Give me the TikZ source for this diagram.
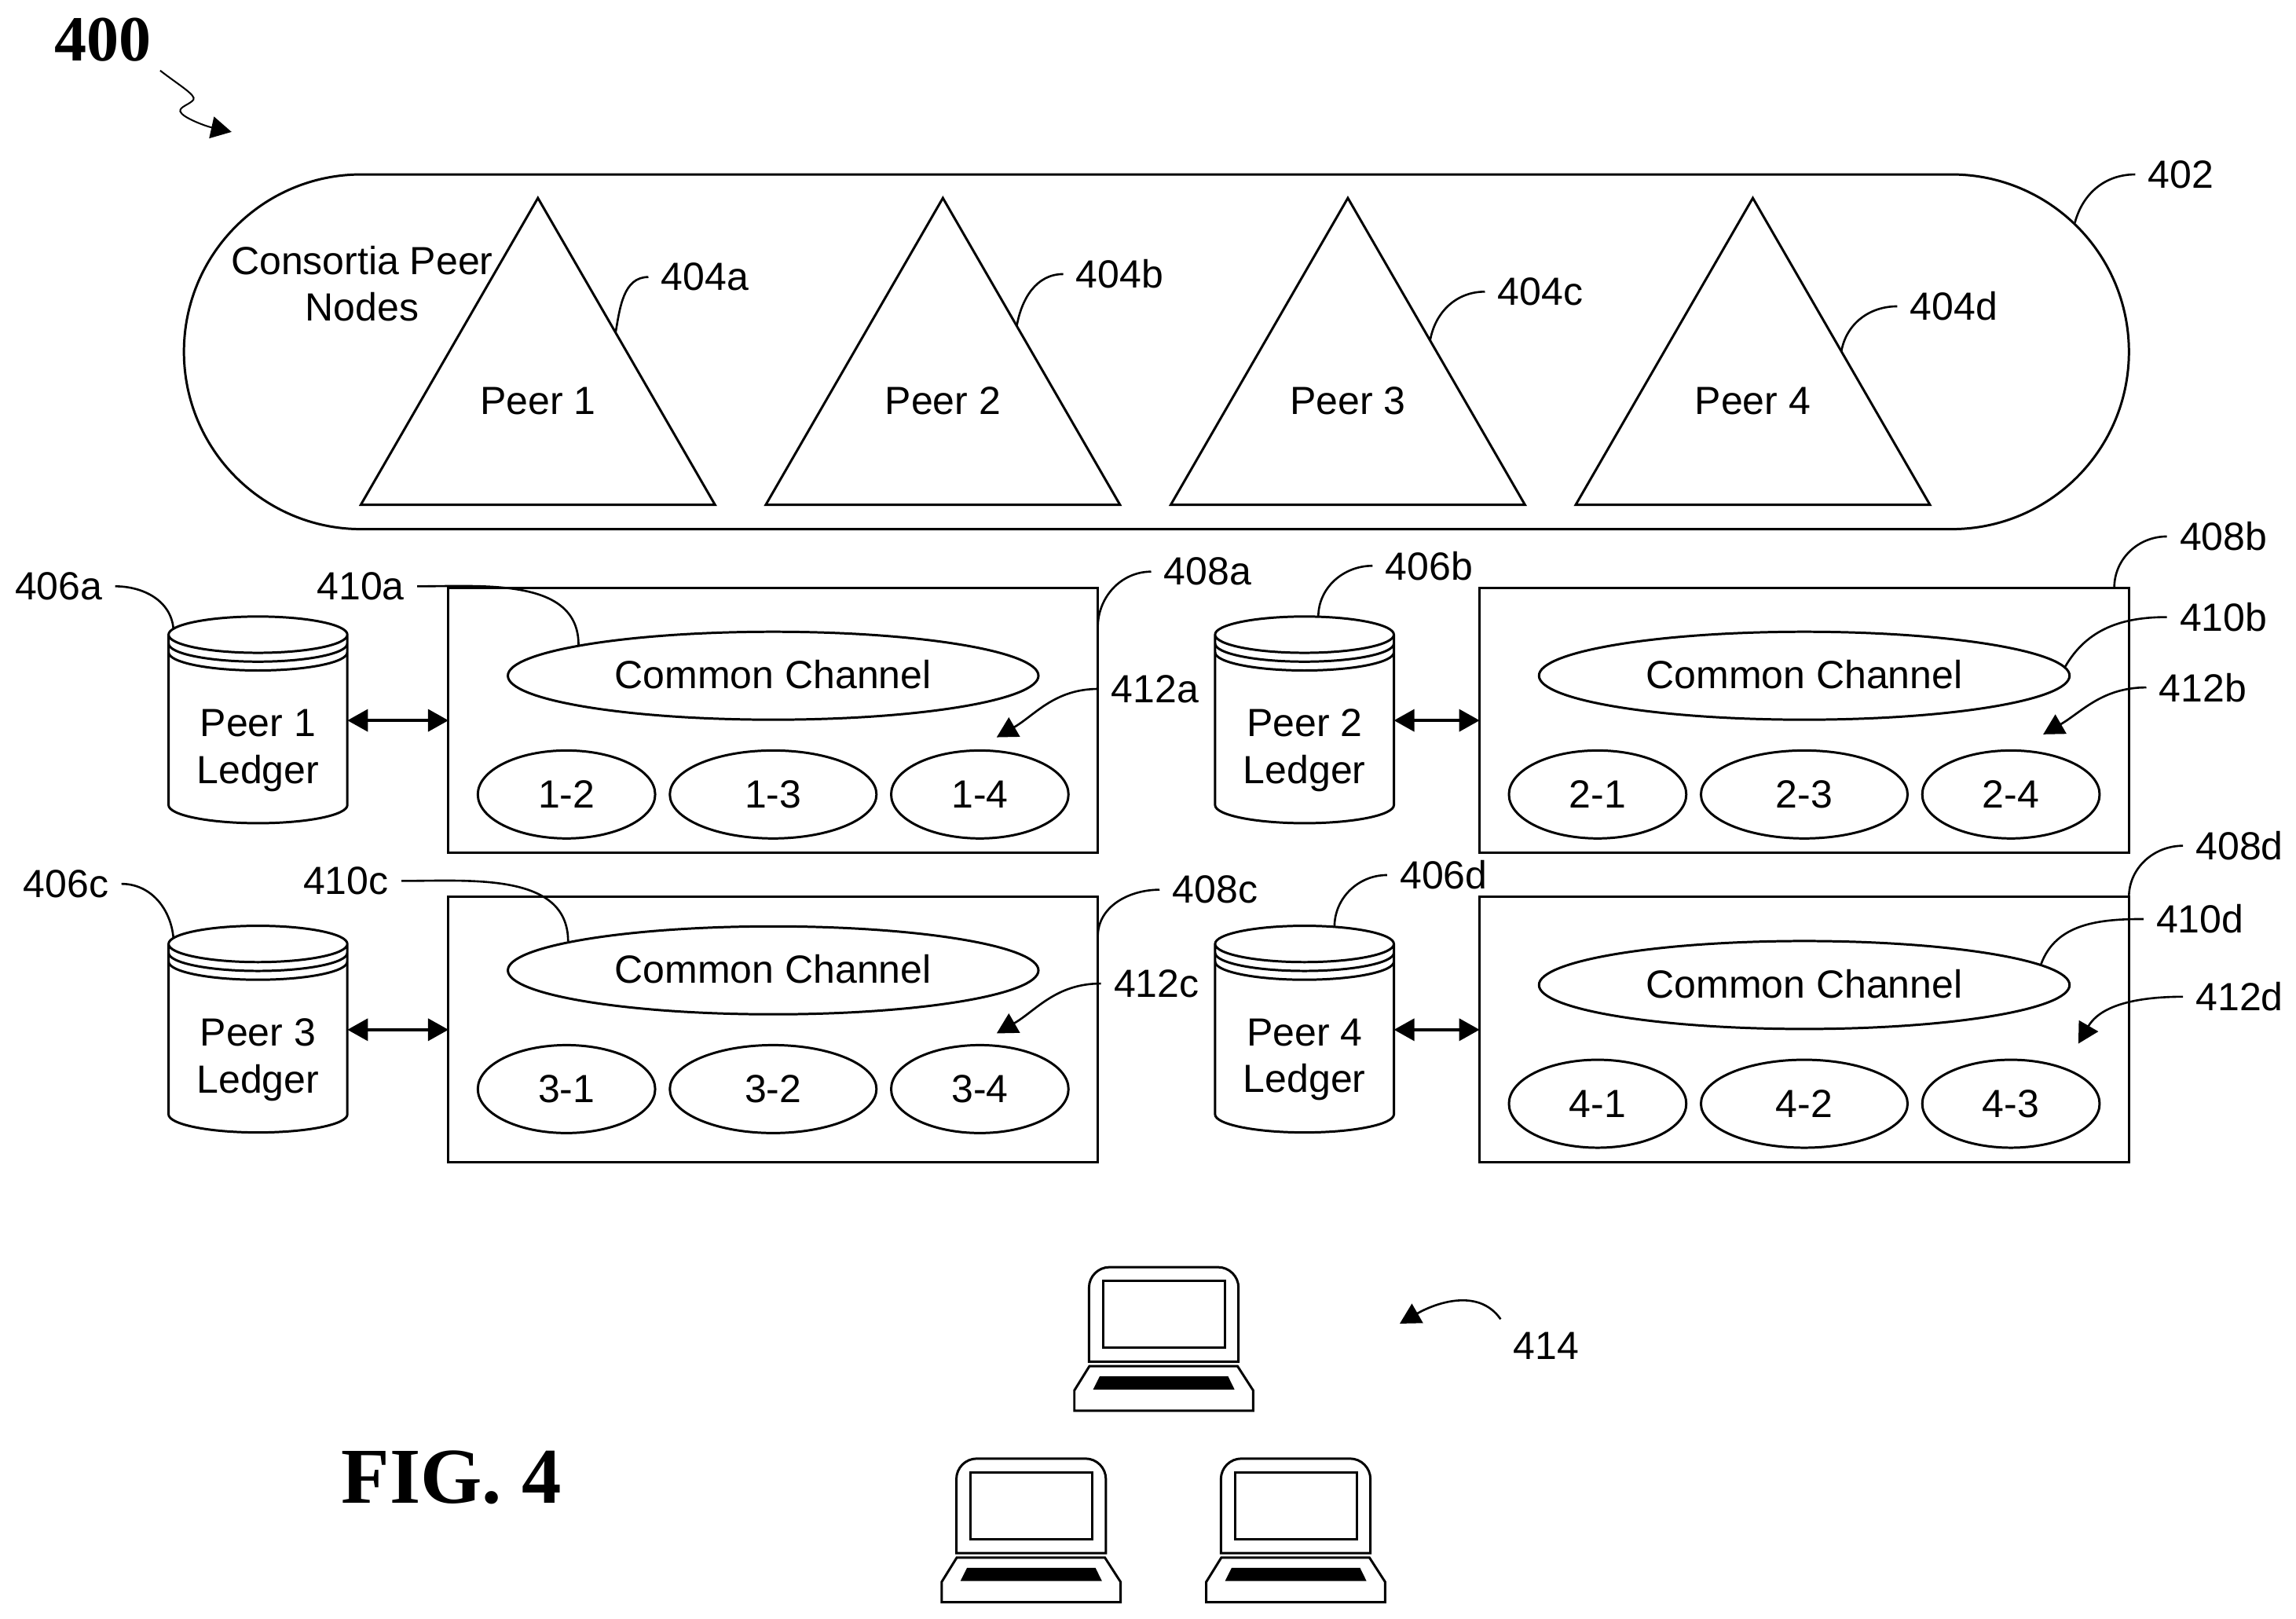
\documentclass[tikz,border=0pt]{standalone}
\usepackage{fontspec}
\setmainfont{Liberation Sans}
\newfontfamily\figfont{Liberation Serif}
\usetikzlibrary{positioning,shapes.geometric,shapes.misc,arrows.meta}

\begin{document}
\begin{tikzpicture}[%
    >={Triangle[length=14pt,width=15pt]},
    x=1pt, y=-1pt, line width=1.6pt,
    align=center, font=\fontsize{26.8}{32}\selectfont,
    pill/.style={draw, shape=rounded rectangle, minimum width=1327pt, minimum height=242pt, inner sep=0},
    peer/.style={draw, shape=regular polygon, regular polygon sides=3, minimum size=279pt, inner sep=0, outer sep=0, text depth=2pt},
    panel/.style={draw, minimum width=443pt, minimum height=181pt, inner sep=0, outer sep=0},
    chan/.style={draw, ellipse, minimum width=362pt, minimum height=60pt, inner sep=0, text depth=2pt},
    smallchan/.style={draw, ellipse, minimum width=121pt, minimum height=60pt, inner sep=0},
    widechan/.style={draw, ellipse, minimum width=141pt, minimum height=60pt, inner sep=0},
    ledger/.style={draw, shape=cylinder, shape border rotate=90, aspect=0.203, minimum height=141pt, minimum width=122pt, inner sep=0, outer sep=0,
      execute at begin node=\hspace*{122pt},
      path picture={
        \draw ([yshift=-18.4pt]path picture bounding box.north west) arc [start angle=180, end angle=360, x radius=61pt, y radius=12.4pt];
        \draw ([yshift=-24.4pt]path picture bounding box.north west) arc [start angle=180, end angle=360, x radius=61pt, y radius=12.4pt];
      }},
    reflabel/.style={inner sep=8pt},
    leader/.style={line width=1.4pt},
    laptop/.pic={
      \draw (-51,66) [rounded corners=14pt] -- (-51,1.5) -- (51,1.5) [sharp corners] -- (51,66) -- cycle;
      \draw (-41.2,11) rectangle (41.8,56.5);
      \draw (-50.7,69) -- (50.3,69) -- (61,85.6) -- (61,99.5) -- (-61,99.5) -- (-61,85.6) -- cycle;
      \fill (-43.7,76) -- (43.9,76) -- (48.3,85) -- (-48.2,85) -- cycle;
    }
  ]
    \useasboundingbox (0,0) rectangle (1566.5,1104.5);

    \node [font=\figfont\bfseries\fontsize{44}{44}\selectfont, inner sep=5.5pt] (r400) at (70,27) {400};
    \coordinate (tip400) at (158,90);

    % consortia
    \node [pill] (pl) at (789,240) {};
    \node (cons) at (247,193.5) {Consortia Peer\\Nodes};
    \node [peer] (t1) at (367,274.6) {Peer 1};
    \node [peer, node distance=276.3pt] (t2) [right of=t1] {Peer 2};
    \node [peer, node distance=276.3pt] (t3) [right of=t2] {Peer 3};
    \node [peer, node distance=276.3pt] (t4) [right of=t3] {Peer 4};

    % ledgers
    \node [ledger] (l1) at (176,497.7) {};
    \node [ledger, node distance=714pt] (l2) [right of=l1] {};
    \node [ledger, node distance=211pt] (l3) [below of=l1] {};
    \node [ledger, node distance=211pt] (l4) [below of=l2] {};
    \node (lt1) at (176,512) {Peer 1\\Ledger};
    \node (lt2) at (890,512) {Peer 2\\Ledger};
    \node (lt3) at (176,723) {Peer 3\\Ledger};
    \node (lt4) at (890,723) {Peer 4\\Ledger};

    % panels
    \node [panel] (b1) at (527.5,491.5) {};
    \node [panel, node distance=703.5pt] (b2) [right of=b1] {};
    \node [panel, node distance=211pt] (b3) [below of=b1] {};
    \node [panel, node distance=211pt] (b4) [below of=b2] {};

    \node [chan, node distance=30.5pt] (e1) [above of=b1] {Common Channel};
    \node [chan, node distance=30.5pt] (e2) [above of=b2] {Common Channel};
    \node [chan, node distance=40.5pt] (e3) [above of=b3] {Common Channel};
    \node [chan, node distance=30.5pt] (e4) [above of=b4] {Common Channel};

    \node [widechan, node distance=50.5pt] (s13) [below of=b1] {1-3};
    \node [smallchan, node distance=141pt] (s12) [left of=s13] {1-2};
    \node [smallchan, node distance=141pt] (s14) [right of=s13] {1-4};
    \node [widechan, node distance=50.5pt] (s23) [below of=b2] {2-3};
    \node [smallchan, node distance=141pt] (s21) [left of=s23] {2-1};
    \node [smallchan, node distance=141pt] (s24) [right of=s23] {2-4};
    \node [widechan, node distance=40.5pt] (s32) [below of=b3] {3-2};
    \node [smallchan, node distance=141pt] (s31) [left of=s32] {3-1};
    \node [smallchan, node distance=141pt] (s34) [right of=s32] {3-4};
    \node [widechan, node distance=50.5pt] (s42) [below of=b4] {4-2};
    \node [smallchan, node distance=141pt] (s41) [left of=s42] {4-1};
    \node [smallchan, node distance=141pt] (s43) [right of=s42] {4-3};

    % laptops
    \pic (lap1) at (794,863) {laptop};
    \pic (lap2) at (703.5,993.6) {laptop};
    \pic (lap3) at (884,993.6) {laptop};

    % reference numerals
    \node [reflabel] (r402) at (1488,119) {402};
    \node [reflabel] (r404a) at (481,189) {404a};
    \node [reflabel] (r404b) at (764,187) {404b};
    \node [reflabel] (r404c) at (1051,199) {404c};
    \node [reflabel] (r404d) at (1333,209) {404d};
    \node [reflabel] (r406a) at (40,400) {406a};
    \node [reflabel] (r406b) at (975,386) {406b};
    \node [reflabel] (r406c) at (45,603) {406c};
    \node [reflabel] (r406d) at (985,597) {406d};
    \node [reflabel] (r408a) at (824,390) {408a};
    \node [reflabel] (r408b) at (1517,366) {408b};
    \node [reflabel] (r408c) at (829,607) {408c};
    \node [reflabel] (r408d) at (1528,577) {408d};
    \node [reflabel] (r410a) at (246,400) {410a};
    \node [reflabel] (r410b) at (1517,421) {410b};
    \node [reflabel] (r410c) at (236,601) {410c};
    \node [reflabel] (r410d) at (1501,627) {410d};
    \node [reflabel] (r412a) at (788,470) {412a};
    \node [reflabel] (r412b) at (1503,469) {412b};
    \node [reflabel] (r412c) at (789,671) {412c};
    \node [reflabel] (r412d) at (1528,680) {412d};
    \node [reflabel] (r414) at (1055,918) {414};
    \node [font=\figfont\bfseries\fontsize{54}{54}\selectfont] (fig) at (308,1008) {FIG. 4};

    \coordinate (tip412a) at (680,503);
    \coordinate (tip412b) at (1394,501);
    \coordinate (tip412c) at (680,705);
    \coordinate (tip412d) at (1418,712);
    \coordinate (tip414) at (955,903);

    \draw [line width=1.1pt, ->] (r400.south east) .. controls (122,58) and (134,65) .. (132,68)
      .. controls (130,71) and (122,73) .. (123,76) .. controls (124,80) and (140,86) .. (tip400);

    \path (b1.west -| l1.east) edge [<->, line width=2.2pt] (b1.west)
          (b2.west -| l2.east) edge [<->, line width=2.2pt] (b2.west)
          (b3.west -| l3.east) edge [<->, line width=2.2pt] (b3.west)
          (b4.west -| l4.east) edge [<->, line width=2.2pt] (b4.west);

    \path (r402.west) edge [leader, out=180, in=75] (pl.8.6)
          (r404a.west) edge [leader, out=180, in=80] (t1.42)
          (r404b.west) edge [leader, out=180, in=80] (t2.46.7)
          (r404c.west) edge [leader, out=180, in=80] (t3.37.5)
          (r404d.west) edge [leader, out=180, in=80] (t4.30)
          (r406a.east) edge [leader, out=0, in=95] (l1.130.7)
          (r406b.west) edge [leader, out=180, in=90] (l2.83.3)
          (r406c.east) edge [leader, out=0, in=95] (l3.130.2)
          (r406d.west) edge [leader, out=180, in=90] (l4.75.4)
          (r408a.west) edge [leader, out=180, in=90] ([yshift=-27pt]b1.north east)
          (r408b.west) edge [leader, out=180, in=90] ([xshift=-10pt]b2.north east)
          (r408c.west) edge [leader, out=180, in=90] ([yshift=-27pt]b3.north east)
          (r408d.west) edge [leader, out=180, in=90] (b4.north east)
          (r410a.east) edge [leader, out=0, in=90] (e1.171)
          (r410b.west) edge [leader, out=180, in=60] (e2.2.6)
          (r410c.east) edge [leader, out=0, in=90] (e3.172.9)
          (r410d.west) edge [leader, out=180, in=70] (e4.5)
          (r412a.west) edge [leader, ->, out=180, in=30] (tip412a)
          (r412b.west) edge [leader, ->, out=180, in=30] (tip412b)
          (r412c.west) edge [leader, ->, out=180, in=30] (tip412c)
          (r412d.west) edge [leader, ->, out=180, in=60] (tip412d)
          (r414.north west) edge [leader, ->, out=125, in=30] (tip414);
\end{tikzpicture}
\end{document}
